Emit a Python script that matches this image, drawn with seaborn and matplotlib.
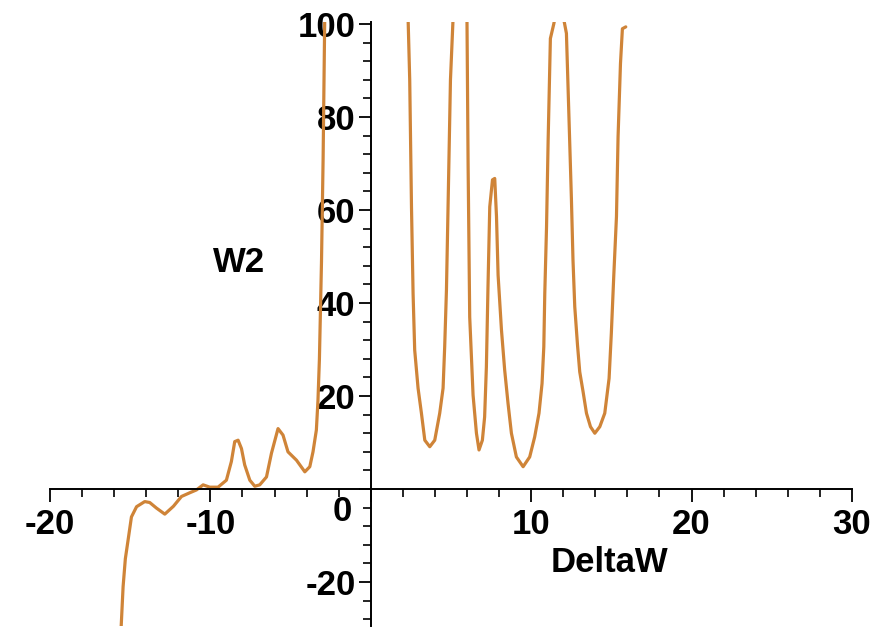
import numpy as np
import pandas as pd
import seaborn as sns
import matplotlib
matplotlib.use("Agg")
import matplotlib.pyplot as plt
import matplotlib.transforms as mtransforms
from matplotlib.ticker import MultipleLocator

# ---- data (three visible branches) ----
xa = [-15.58, -15.44, -15.3, -15.13, -14.92, -14.6, -14.09, -13.78, -13.36, -12.84,
      -12.3, -11.8, -11.28, -10.87, -10.45, -10.04, -9.52, -9.0, -8.69, -8.48,
      -8.27, -8.06, -7.86, -7.54, -7.23, -6.92, -6.5, -6.19, -5.78, -5.47,
      -5.16, -4.63, -4.11, -3.8, -3.6, -3.39, -3.29, -3.2, -3.07, -2.97, -2.87]
ya = [-31.0, -21.0, -15.0, -11.0, -6.0, -3.8, -2.7, -2.9, -4.1, -5.4,
      -3.7, -1.6, -0.8, -0.2, 0.9, 0.4, 0.4, 1.9, 5.9, 10.2,
      10.5, 8.7, 5.2, 1.9, 0.6, 0.9, 2.6, 7.7, 13.0, 11.6,
      8.0, 6.2, 3.7, 4.8, 8.0, 12.7, 19.1, 28.0, 49.0, 71.0, 101.0]

xb = [2.33, 2.43, 2.54, 2.64, 2.74, 2.95, 3.16, 3.37, 3.68, 3.99,
      4.30, 4.51, 4.61, 4.72, 4.82, 4.97, 5.13]
yb = [101.0, 88.0, 60.7, 42.0, 29.9, 21.7, 16.3, 10.5, 9.1, 10.5,
      16.3, 21.7, 30.6, 42.8, 60.7, 88.0, 101.0]

xc = [6.0, 6.07, 6.17, 6.38, 6.59, 6.75, 6.96, 7.1, 7.21, 7.31,
      7.42, 7.59, 7.73, 7.84, 7.94, 8.15, 8.35, 8.56, 8.77, 9.08,
      9.5, 9.91, 10.22, 10.49, 10.68, 10.79, 10.85, 10.96, 11.06, 11.2,
      11.41, 11.75, 12.09, 12.2, 12.37, 12.51, 12.61, 12.72, 12.89, 13.03,
      13.24, 13.45, 13.7, 13.97, 14.28, 14.59, 14.86, 15.0, 15.15, 15.32,
      15.42, 15.57, 15.69, 15.9]
yc = [101.0, 69.7, 37.0, 20.2, 12.0, 8.4, 10.5, 15.5, 26.3, 43.5,
      60.7, 66.5, 66.8, 58.6, 46.0, 34.2, 25.6, 18.4, 12.0, 6.9,
      4.8, 6.9, 11.2, 16.3, 22.7, 30.6, 42.0, 56.4, 75.0, 96.9,
      100.0, 106.0, 100.0, 98.0, 78.6, 62.5, 49.2, 39.2, 31.0, 25.2,
      20.9, 16.3, 13.4, 12.0, 13.4, 16.3, 23.8, 33.5, 45.7, 58.6,
      75.8, 91.5, 99.0, 99.4]

x_major = [-20, -10, 0, 10, 20, 30]
x_labels = ["-20", "-10", "", "10", "20", "30"]
y_major = [-20, 0, 20, 40, 60, 80, 100]
y_labels = ["-20", "0", "20", "40", "60", "80", "100"]

df = pd.DataFrame({
    "DeltaW": xa + xb + xc,
    "W2": ya + yb + yc,
    "branch": ["a"] * len(xa) + ["b"] * len(xb) + ["c"] * len(xc),
})

sns.set_style("ticks")
plt.rcParams["font.family"] = ["Liberation Sans", "DejaVu Sans"]
plt.rcParams["font.weight"] = "bold"
plt.rcParams["text.color"] = "black"
plt.rcParams["axes.labelcolor"] = "black"

fig = plt.figure(figsize=(8.78, 6.27), dpi=100)
ax = fig.add_axes([0.0569, 0.0013, 0.9134, 0.964])

color = "#CF8438"
sns.lineplot(data=df, x="DeltaW", y="W2", units="branch", estimator=None,
             sort=False, color=color, linewidth=2.3, ax=ax, legend=False)

ax.set_xlim(-20, 30)
ax.set_ylim(-29.5, 100.5)

for s in ["top", "right"]:
    ax.spines[s].set_visible(False)
ax.spines["left"].set_position(("data", 0))
ax.spines["bottom"].set_position(("data", 0))
for s in ["left", "bottom"]:
    ax.spines[s].set_linewidth(1.4)
    ax.spines[s].set_color("black")

ax.set_xticks(x_major)
ax.set_xticklabels(x_labels)
ax.set_yticks(y_major)
ax.set_yticklabels(y_labels)
ax.xaxis.set_minor_locator(MultipleLocator(2))
ax.yaxis.set_minor_locator(MultipleLocator(4))

ax.tick_params(axis="both", which="major", direction="out", length=9, width=1.3,
               labelsize=25, colors="black")
ax.tick_params(axis="both", which="minor", direction="out", length=6, width=1.2,
               colors="black")
ax.tick_params(axis="x", which="major", pad=5)
ax.tick_params(axis="y", which="major", pad=2)

for lab in ax.get_xticklabels() + ax.get_yticklabels():
    lab.set_fontweight("bold")
    lab.set_color("black")

# the y "0" label sits a bit below its tick, as in the reference
for lab in ax.get_yticklabels():
    if lab.get_text() == "0":
        off = mtransforms.ScaledTranslation(-4 / 100, -19 / 100, fig.dpi_scale_trans)
        lab.set_transform(lab.get_transform() + off)

ax.set_xlabel("DeltaW", fontsize=25, fontweight="bold", va="center", ha="center",
              color="black")
ax.set_ylabel("W2", fontsize=25, fontweight="bold", rotation=0, va="center",
              ha="center", color="black")
ax.xaxis.set_label_coords(0.698, 0.106)
ax.yaxis.set_label_coords(0.2357, 0.6025)

fig.savefig("out.png", dpi=100)
